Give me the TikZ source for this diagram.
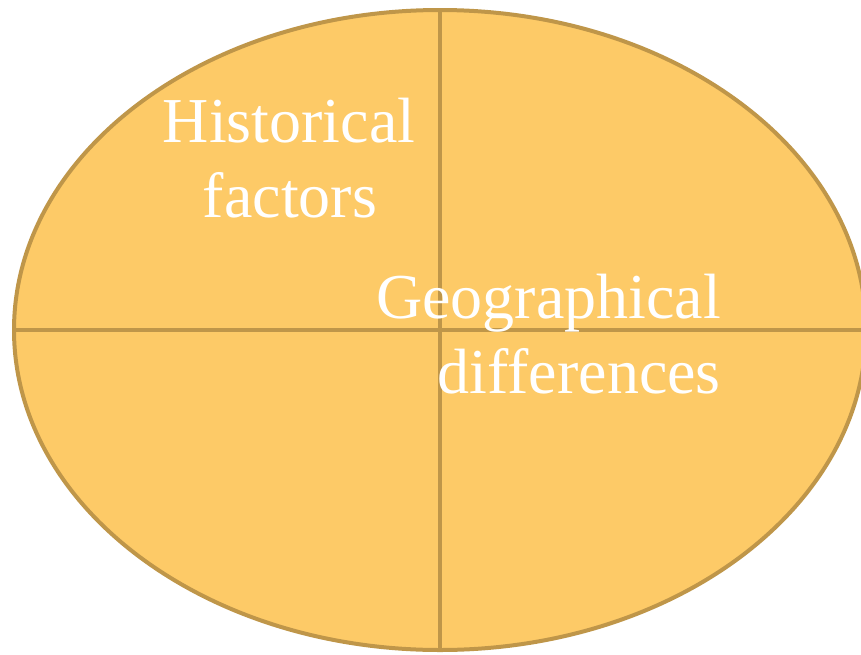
\documentclass[tikz,border=0pt]{standalone}
\usepackage{fontspec}
\setmainfont{Liberation Serif}
\usetikzlibrary{shapes.geometric}
\definecolor{ovalfill}{RGB}{253,202,103}
\definecolor{ovalline}{RGB}{191,150,73}
\tikzset{
  oval/.style={ellipse, draw=ovalline, fill=ovalfill, line width=4pt, inner sep=0pt, outer sep=0pt,
    minimum width=852pt, minimum height=640pt},
  divider/.style={draw=ovalline, line width=4pt},
  lbl/.style={text=white, font=\fontsize{64pt}{75pt}\selectfont, inner sep=0pt}
}
\begin{document}
\begin{tikzpicture}[x=1pt,y=-1pt]
\useasboundingbox (0,0) rectangle (861,654);
\clip (0,0) rectangle (861,654);
\node[oval] (e) at (440,330) {};
\draw[divider] (e.west) -- (e.east);
\draw[divider] (e.north) -- (e.south);
\node[lbl, anchor=base] (h1) at (289,142) {Historical};
\node[lbl, anchor=base] (h2) at (290,217) {factors};
\node[lbl, anchor=base east] (g1) at (721,318) {Geographical};
\node[lbl, anchor=base east] (g2) at (721,393) {differences};
\end{tikzpicture}
\end{document}
